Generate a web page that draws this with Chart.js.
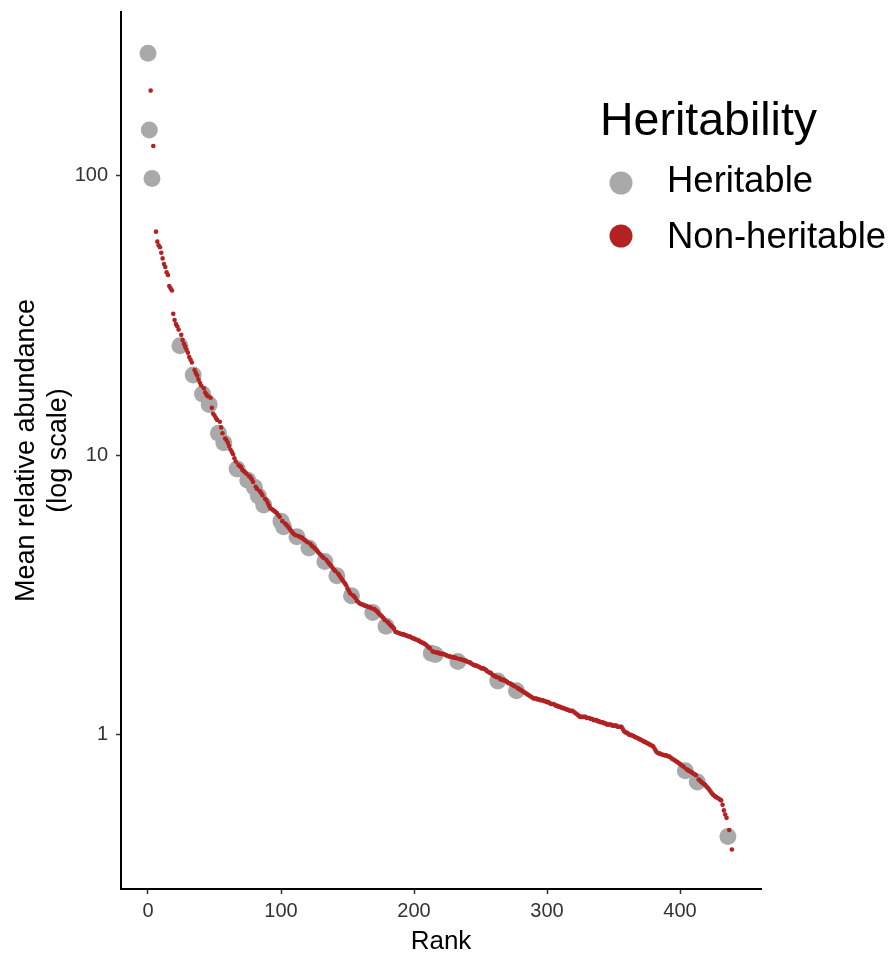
<!DOCTYPE html>
<html>
<head>
<meta charset="utf-8">
<script src="https://cdn.jsdelivr.net/npm/chart.js@4.4.1/dist/chart.umd.min.js"></script>
<style>
  html, body { margin: 0; padding: 0; background: #ffffff; }
  #wrap { width: 894px; height: 955px; }
</style>
</head>
<body>
<div id="wrap"><canvas id="c" width="894" height="955"></canvas></div>
<script>
// ---------------- DATA ----------------
const xTitle = 'Rank';
const yTitle = ['Mean relative abundance', '(log scale)'];
const legendTitle = 'Heritability';
const seriesNames = ['Heritable', 'Non-heritable'];
const xTicks = [0, 100, 200, 300, 400];
const yTicks = [1, 10, 100];

// Heritable taxa: rank and mean relative abundance
const heritableRank = [0, 1, 3, 24, 34, 41, 46, 53, 57, 67, 75, 80, 83, 87, 100, 102, 112, 121, 133, 142, 153, 169, 179, 213, 216, 233, 263, 277, 404, 413, 436];
const heritableAbundance = [275, 146, 98, 24.7, 19.4, 16.6, 15.2, 12.0, 11.1, 8.95, 8.15, 7.7, 7.16, 6.65, 5.82, 5.56, 5.12, 4.66, 4.17, 3.71, 3.15, 2.74, 2.45, 1.96, 1.94, 1.83, 1.56, 1.44, 0.745, 0.679, 0.433];

// Non-heritable taxa: mean relative abundance for rank 0, 1, 2, ... (null = no non-heritable taxon at that rank)
const nonHeritableAbundance = [
  null, null, 202, null, 128, null, 63.2, 58.2, 56.5, 55.6,
  53.1, 50.7, 48.4, 47.2, 45.2, 44.2, 40.4, 39.6, 38.9, 32.1,
  30.5, 29.5, 29.0, 28.2, null, 27.0, 25.9, 25.1, 24.5, 23.9,
  23.3, 22.5, 22.0, 21.5, null, 20.2, 19.7, 19.3, 18.7, 18.2,
  17.8, null, 17.4, 16.8, 16.5, 16.3, null, 16.1, 14.8, 14.1,
  13.9, 13.6, 13.4, null, 13.2, 12.6, 12.0, null, 11.5, 11.35,
  11.1, 10.8, 10.5, 10.3, 10.1, 9.77, 9.51, null, 9.25, 9.16,
  9.08, 8.87, 8.79, 8.71, 8.61, null, 8.43, 8.36, 8.22, 8.04,
  null, 7.73, 7.59, null, 7.45, 7.35, 7.21, null, 7.00, 6.92,
  6.76, 6.61, 6.47, 6.43, 6.38, 6.32, 6.27, 6.21, 6.11, 6.03,
  null, 5.82, null, 5.71, 5.65, 5.58, 5.50, 5.42, 5.35, 5.27,
  5.22, 5.18, null, 5.15, 5.12, 5.09, 5.07, 5.01, 4.98, 4.93,
  4.89, null, 4.83, 4.76, 4.71, 4.67, 4.62, 4.58, 4.50, 4.45,
  4.40, 4.35, 4.30, null, 4.23, 4.17, 4.11, 4.06, 4.01, 3.95,
  3.90, 3.85, null, 3.77, 3.71, 3.65, 3.60, 3.54, 3.49, 3.43,
  3.35, 3.28, 3.21, null, 3.16, 3.13, 3.09, 3.02, 2.99, 2.96,
  2.94, 2.93, 2.92, 2.90, 2.90, 2.88, 2.87, 2.86, 2.84, null,
  2.82, 2.80, 2.77, 2.74, 2.70, 2.68, 2.65, 2.62, 2.58, null,
  2.54, 2.51, 2.48, 2.45, 2.43, 2.40, 2.34, 2.33, 2.32, 2.31,
  2.30, 2.29, 2.29, 2.28, 2.27, 2.26, 2.25, 2.25, 2.23, 2.22,
  2.21, 2.20, 2.19, 2.18, 2.17, 2.15, 2.14, 2.13, 2.12, 2.10,
  2.08, 2.06, 2.04, null, 1.99, 1.98, null, 1.97, 1.97, 1.96,
  1.95, 1.95, 1.95, 1.94, 1.93, 1.92, 1.91, 1.91, 1.90, 1.90,
  1.89, 1.89, 1.88, null, 1.87, 1.87, 1.86, 1.85, 1.85, 1.84,
  1.83, 1.82, 1.82, 1.80, 1.79, 1.78, 1.77, 1.77, 1.76, 1.75,
  1.74, 1.73, 1.73, 1.72, 1.71, 1.69, 1.68, 1.67, 1.66, 1.64,
  1.63, 1.62, 1.61, null, 1.60, 1.58, 1.58, 1.57, 1.57, 1.56,
  1.55, 1.53, 1.53, 1.52, 1.51, 1.50, 1.49, null, 1.47, 1.46,
  1.45, 1.44, 1.43, 1.42, 1.41, 1.40, 1.39, 1.38, 1.37, 1.36,
  1.35, 1.35, 1.35, 1.34, 1.34, 1.33, 1.33, 1.33, 1.32, 1.32,
  1.31, 1.31, 1.30, 1.29, 1.29, 1.29, 1.28, 1.27, 1.27, 1.26,
  1.26, 1.25, 1.25, 1.24, 1.24, 1.23, 1.23, 1.22, 1.22, 1.22,
  1.21, 1.20, 1.19, 1.18, 1.17, 1.16, 1.16, 1.16, 1.16, 1.16,
  1.15, 1.15, 1.15, 1.14, 1.14, 1.13, 1.13, 1.13, 1.12, 1.12,
  1.11, 1.11, 1.11, 1.10, 1.10, 1.09, 1.09, 1.09, 1.09, 1.08,
  1.08, 1.08, 1.08, 1.07, 1.07, 1.07, 1.07, 1.05, 1.03, 1.02,
  1.02, 1.01, 1.00, 1.00, 0.995, 0.991, 0.984, 0.979, 0.975, 0.968,
  0.964, 0.957, 0.953, 0.946, 0.942, 0.936, 0.931, 0.925, 0.920, 0.914,
  0.908, 0.891, 0.875, 0.863, 0.859, 0.857, 0.853, 0.849, 0.847, 0.845,
  0.843, 0.839, 0.836, 0.830, 0.822, 0.817, 0.811, 0.805, 0.800, 0.793,
  0.787, 0.780, 0.774, 0.767, null, 0.753, 0.748, 0.743, 0.738, 0.733,
  0.728, 0.723, 0.718, null, 0.692, 0.687, 0.679, 0.673, 0.667, 0.661,
  0.653, 0.646, 0.637, 0.627, 0.618, 0.610, 0.604, 0.600, 0.596, 0.592,
  0.587, 0.583, 0.562, 0.537, 0.519, 0.505, null, 0.457, null, 0.389
];

// ---------------- STYLE ----------------
const FONT = '"Liberation Sans", Arial, Helvetica, sans-serif';
const GREY = '#A9A9A9';
const RED = '#B22222';

Chart.defaults.font.family = FONT;

const heritablePoints = heritableRank.map((r, i) => ({ x: r, y: heritableAbundance[i] }));
const nonHeritablePoints = nonHeritableAbundance
  .map((v, i) => ({ x: i, y: v }))
  .filter(p => p.y !== null);

const legendPlugin = {
  id: 'ggLegend',
  afterDraw(chart) {
    const ctx = chart.ctx;
    ctx.save();
    ctx.fillStyle = '#000';
    ctx.textAlign = 'left';
    ctx.textBaseline = 'alphabetic';
    ctx.font = '46.5px ' + FONT;
    ctx.fillText(legendTitle, 600, 135);
    const items = [
      { label: seriesNames[0], color: GREY, cy: 183, base: 192 },
      { label: seriesNames[1], color: RED, cy: 236, base: 248 }
    ];
    ctx.font = '36.5px ' + FONT;
    items.forEach(it => {
      ctx.beginPath();
      ctx.arc(621, it.cy, 11.5, 0, Math.PI * 2);
      ctx.fillStyle = it.color;
      ctx.fill();
      ctx.fillStyle = '#000';
      ctx.fillText(it.label, 667, it.base);
    });
    ctx.restore();
  }
};

function zeroPad(s) {
  s.paddingTop = 0; s.paddingBottom = 0; s.paddingLeft = 0; s.paddingRight = 0;
}

new Chart(document.getElementById('c'), {
  type: 'scatter',
  data: {
    datasets: [
      {
        label: seriesNames[1],
        data: nonHeritablePoints,
        backgroundColor: RED,
        borderWidth: 0,
        pointRadius: 2.3,
        order: 0
      },
      {
        label: seriesNames[0],
        data: heritablePoints,
        backgroundColor: GREY,
        borderWidth: 0,
        pointRadius: 8.5,
        order: 1
      }
    ]
  },
  options: {
    responsive: false,
    animation: false,
    devicePixelRatio: 1,
    layout: { padding: { left: 0, top: 12, right: 133, bottom: 0 } },
    plugins: {
      legend: { display: false },
      tooltip: { enabled: false }
    },
    scales: {
      x: {
        type: 'linear',
        min: -20.3,
        max: 460.9,
        afterBuildTicks: s => { s.ticks = xTicks.map(v => ({ value: v })); },
        afterFit: s => { s.height = 66; zeroPad(s); },
        border: { display: true, color: '#000', width: 2 },
        grid: { display: true, drawOnChartArea: false, drawTicks: true, tickLength: 5, tickColor: '#333', tickWidth: 1.5 },
        ticks: { autoSkip: false, maxRotation: 0, padding: 5, color: '#333', font: { size: 20, family: FONT } },
        title: { display: true, text: xTitle, color: '#000', font: { size: 26, family: FONT, lineHeight: 1.05 }, padding: { top: 0, bottom: 0 } }
      },
      y: {
        type: 'logarithmic',
        min: 0.281,
        max: 386,
        afterBuildTicks: s => { s.ticks = yTicks.map(v => ({ value: v })); },
        afterFit: s => { s.width = 121; zeroPad(s); },
        border: { display: true, color: '#000', width: 2 },
        grid: { display: true, drawOnChartArea: false, drawTicks: true, tickLength: 5, tickColor: '#333', tickWidth: 1.5 },
        ticks: { autoSkip: false, padding: 8, color: '#333', font: { size: 20, family: FONT }, callback: v => String(v) },
        title: { display: true, text: yTitle, color: '#000', font: { size: 27, family: FONT, lineHeight: 1.15 }, padding: { top: 11.5, bottom: 0 } }
      }
    }
  },
  plugins: [legendPlugin]
});
</script>
</body>
</html>
